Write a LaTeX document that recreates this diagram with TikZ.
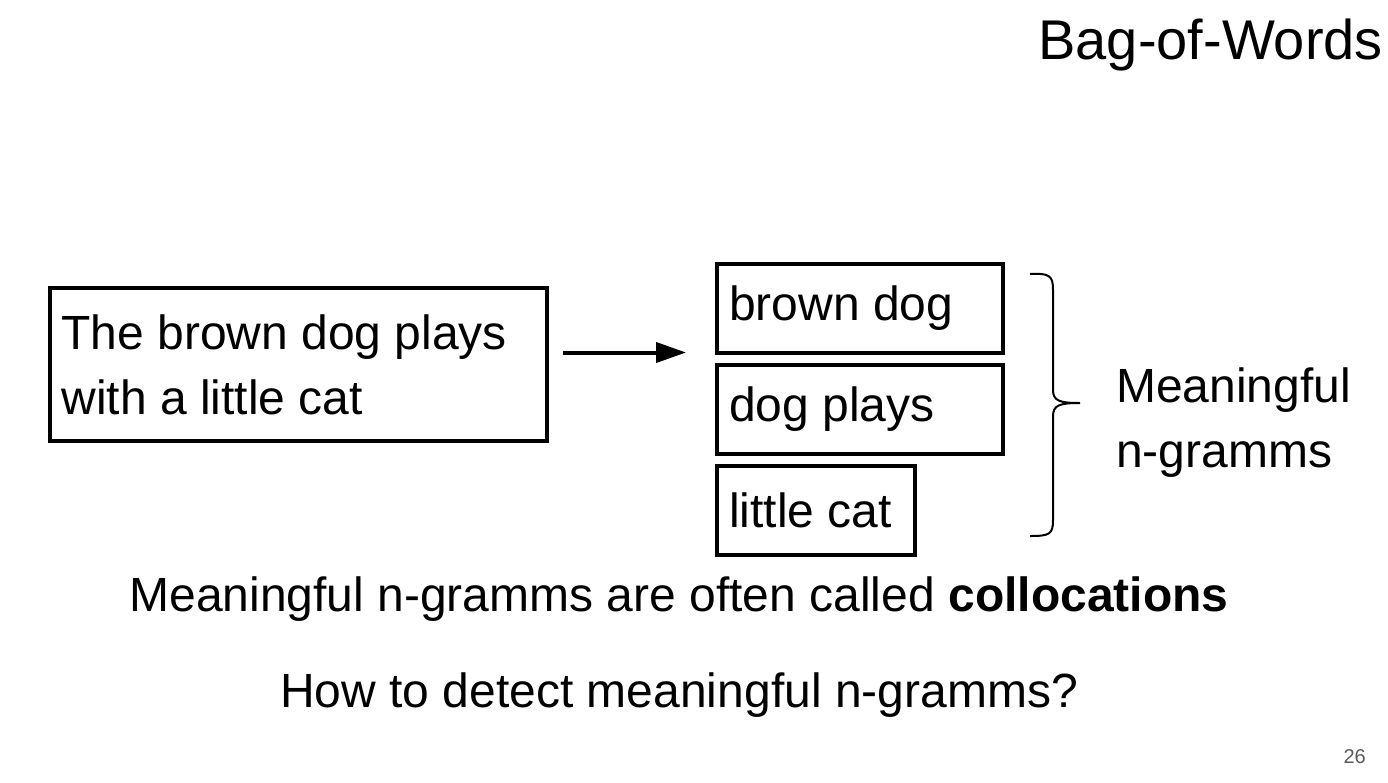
\documentclass[tikz,border=0pt]{standalone}
\usepackage{fontspec}
\setmainfont{Liberation Sans}
\usetikzlibrary{positioning,arrows.meta}
\definecolor{pagegray}{HTML}{595959}
\begin{document}
\begin{tikzpicture}[x=1pt,y=-1pt,
  body/.style={font=\fontsize{48}{65}\selectfont, inner sep=0pt},
  wordbox/.style={body, draw, line width=4pt, inner xsep=12pt, align=flush left, anchor=north west},
  gram/.style={wordbox, minimum height=89pt, node distance=8pt},
  arrow/.style={line width=4pt, -{Triangle[length=30pt,width=20pt]}, shorten <=14pt, shorten >=29pt},
  brace/.style={line width=2pt}]
\useasboundingbox (0,0) rectangle (1388,782);
\node [font=\fontsize{56}{64}\selectfont, inner sep=0pt, anchor=base east] (title) at (1383,59) {Bag-of-Words};
\node [wordbox, text width=473.5pt, minimum height=153pt] (sent) at (47.5,286) {The brown dog plays\\with a little cat};
\node [gram, text width=262pt] (bd) at (715,262) {brown dog};
\node [gram, text width=262pt, below=of bd] (dp) {dog plays};
\node [gram, text width=174pt, below=8pt of dp.south west, anchor=north west] (lc) {little cat};
\draw [arrow] ([yshift=2.5pt]sent.east |- bd.south west) -- ([yshift=2.5pt]bd.south west);
\draw [brace] (1030,274) .. controls (1050,273) and (1053,276) .. (1053,290) -- (1053,390)
  .. controls (1053,401) and (1060,403) .. (1080,403)
  .. controls (1060,403) and (1053,405) .. (1053,416) -- (1053,520)
  .. controls (1053,534) and (1050,536) .. (1030,536);
\node [body, text width=260pt, align=flush left, anchor=base west] (mng) at (1116,402) {Meaningful\\n-gramms};
\node [body, anchor=base] (coll) at (679,611) {Meaningful n-gramms are often called \textbf{collocations}};
\node [body, anchor=base] (quest) at (679,707) {How to detect meaningful n-gramms?};
\node [font=\fontsize{20}{24}\selectfont, text=pagegray, inner sep=0pt, anchor=base east] (page) at (1366,763) {26};
\end{tikzpicture}
\end{document}
